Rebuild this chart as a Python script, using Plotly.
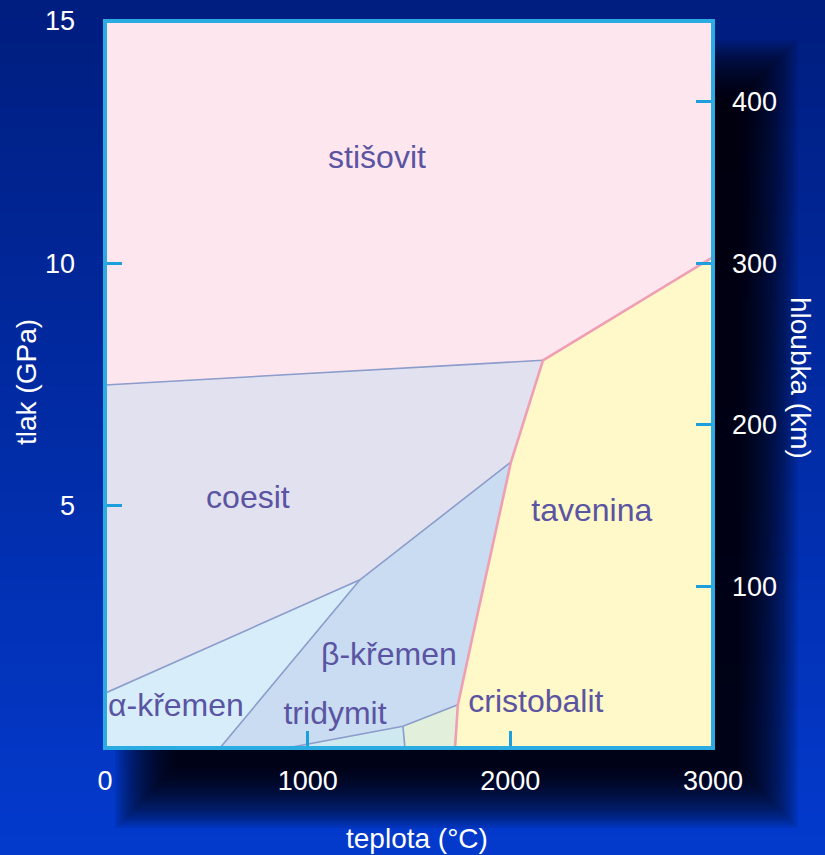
import plotly.graph_objects as go

# ---------------- data (temperature °C, pressure GPa) ----------------
stisovit_T = [0, 3000, 3000, 2161, 0]
stisovit_P = [15, 15, 10.13, 8.0, 7.49]

tavenina_T = [3000, 3000, 1727, 1741, 1810, 2003, 2161]
tavenina_P = [10.13, 0, 0, 0.89, 2.23, 5.9, 8.0]

coesit_T = [0, 2161, 2003, 1258, 0]
coesit_P = [7.49, 8.0, 5.9, 3.47, 1.13]

alfa_T = [0, 1258, 567, 0]
alfa_P = [1.13, 3.47, 0, 0]

beta_T = [567, 1258, 2003, 1810, 1741, 1470, 898]
beta_P = [0, 3.47, 5.9, 2.23, 0.89, 0.45, 0]

tridymit_T = [898, 1470, 1480]
tridymit_P = [0, 0.45, 0]

cristobalit_T = [1480, 1470, 1741, 1727]
cristobalit_P = [0, 0.45, 0.89, 0]

# boundary lines
melt_T = [1727, 1741, 1810, 2003, 2161, 3000]
melt_P = [0, 0.89, 2.23, 5.9, 8.0, 10.13]
b_stis_T = [0, 2161]
b_stis_P = [7.49, 8.0]
b_coes_T = [0, 1258, 2003]
b_coes_P = [1.13, 3.47, 5.9]
b_ab_T = [567, 1258]
b_ab_P = [0, 3.47]
b_trid_T = [898, 1470, 1741]
b_trid_P = [0, 0.45, 0.89]
b_tc_T = [1470, 1480]
b_tc_P = [0.45, 0]

labels = ["stišovit", "coesit", "tavenina", "β-křemen", "α-křemen", "tridymit", "cristobalit"]
label_T = [1342, 705, 2402, 1401, 350, 1135, 2126]
label_P = [12.13, 5.12, 4.85, 1.88, 0.83, 0.66, 0.91]

x_ticks = [0, 1000, 2000, 3000]
y_ticks = [0, 5, 10, 15]
y_tick_text = ["", "5", "10", "15"]
depth_ticks = [100, 200, 300, 400]

# ---------------- styling ----------------
FONT = "Liberation Sans, Arial, sans-serif"
LABEL_COLOR = "#5a54a2"
TICK_COLOR = "#1c9fdc"
BORDER = "#2aabe2"

fig = go.Figure()

regions = [
    (stisovit_T, stisovit_P, "#fde6ee"),
    (tavenina_T, tavenina_P, "#fff8c8"),
    (coesit_T, coesit_P, "#e2e1f0"),
    (alfa_T, alfa_P, "#d7eefa"),
    (beta_T, beta_P, "#c9dcf1"),
    (tridymit_T, tridymit_P, "#cfe9f1"),
    (cristobalit_T, cristobalit_P, "#e2efda"),
]
for xs, ys, col in regions:
    fig.add_trace(go.Scatter(x=xs, y=ys, fill="toself", fillcolor=col, mode="lines",
                             line=dict(width=0, color=col), hoverinfo="skip", showlegend=False))

for xs, ys in [(b_stis_T, b_stis_P), (b_coes_T, b_coes_P), (b_ab_T, b_ab_P),
               (b_trid_T, b_trid_P), (b_tc_T, b_tc_P)]:
    fig.add_trace(go.Scatter(x=xs, y=ys, mode="lines", line=dict(color="#8c9dcb", width=1.6),
                             hoverinfo="skip", showlegend=False))
fig.add_trace(go.Scatter(x=melt_T, y=melt_P, mode="lines", line=dict(color="#ee9fb3", width=2.6),
                         hoverinfo="skip", showlegend=False))

fig.add_trace(go.Scatter(x=label_T, y=label_P, mode="text", text=labels,
                         textfont=dict(family=FONT, size=32, color=LABEL_COLOR),
                         hoverinfo="skip", showlegend=False))

# invisible trace to activate the depth axis
fig.add_trace(go.Scatter(x=[0], y=[0], yaxis="y2", mode="markers", marker=dict(opacity=0),
                         hoverinfo="skip", showlegend=False))

# ---------------- background gradient & shadow ----------------
W, H = 825, 855
L, R, T, B = 105, 713, 21, 748
pw, ph = R - L, B - T


def px_x(px):
    return (px - L) / pw


def px_y(py):
    return (B - py) / ph


shapes = []
top = (0, 30, 128)
bot = (4, 58, 204)
n = 40
for i in range(n):
    f = i / (n - 1)
    c = tuple(int(top[k] + (bot[k] - top[k]) * f) for k in range(3))
    y0 = i * H / n
    y1 = (i + 1) * H / n + 1
    shapes.append(dict(type="rect", xref="paper", yref="paper", x0=px_x(-5), x1=px_x(W + 5),
                       y0=px_y(y1), y1=px_y(y0), line=dict(width=0),
                       fillcolor="rgb(%d,%d,%d)" % c, layer="below"))
steps = 26
for k in range(steps):
    e = (steps - 1 - k) * 2.4
    shapes.append(dict(type="rect", xref="paper", yref="paper",
                       x0=px_x(175 - e), x1=px_x(738 + e), y0=px_y(768 + e), y1=px_y(100 - e),
                       line=dict(width=0), fillcolor="black", opacity=0.07, layer="below"))
shapes.append(dict(type="rect", xref="paper", yref="paper", x0=0, x1=1, y0=0, y1=1,
                   line=dict(color=BORDER, width=4), layer="above"))

annotations = [
    dict(text="teplota (°C)", x=px_x(417), y=px_y(838), xref="paper", yref="paper",
         xanchor="center", yanchor="middle",
         showarrow=False, font=dict(family=FONT, size=28, color="white")),
    dict(text="tlak (GPa)", x=px_x(26), y=px_y(382), xref="paper", yref="paper", textangle=-90,
         xanchor="center", yanchor="middle",
         showarrow=False, font=dict(family=FONT, size=28, color="white")),
    dict(text="hloubka (km)", x=px_x(801), y=px_y(378), xref="paper", yref="paper", textangle=90,
         xanchor="center", yanchor="middle",
         showarrow=False, font=dict(family=FONT, size=28, color="white")),
]

tickfont = dict(family=FONT, size=27, color="white")
fig.update_layout(
    width=W, height=H, autosize=False,
    margin=dict(l=L, r=W - R, t=T, b=H - B, pad=0, autoexpand=False),
    paper_bgcolor="#0530b0",
    plot_bgcolor="rgba(0,0,0,0)",
    shapes=shapes,
    annotations=annotations,
    xaxis=dict(range=[0, 3000], tickvals=x_ticks, ticks="inside", ticklen=17, tickwidth=3,
               tickcolor=TICK_COLOR, showgrid=False, zeroline=False, showline=False,
               tickfont=tickfont, ticklabelstandoff=14, fixedrange=True, automargin=False),
    yaxis=dict(range=[0, 15], tickvals=y_ticks, ticktext=y_tick_text, ticks="inside",
               ticklen=17, tickwidth=3, tickcolor=TICK_COLOR, showgrid=False, zeroline=False,
               showline=False, tickfont=tickfont, ticklabelstandoff=29, fixedrange=True,
               automargin=False),
    yaxis2=dict(range=[0, 450], overlaying="y", side="right", tickvals=depth_ticks,
                ticks="inside", ticklen=17, tickwidth=3, tickcolor=TICK_COLOR, showgrid=False,
                zeroline=False, showline=False, tickfont=tickfont, ticklabelstandoff=18,
                fixedrange=True, automargin=False),
    showlegend=False,
)

fig.write_html(
    "out.html",
    config={"displayModeBar": False, "responsive": False},
    post_script="document.documentElement.style.margin='0';document.body.style.margin='0';"
                "document.body.style.overflow='hidden';",
)
